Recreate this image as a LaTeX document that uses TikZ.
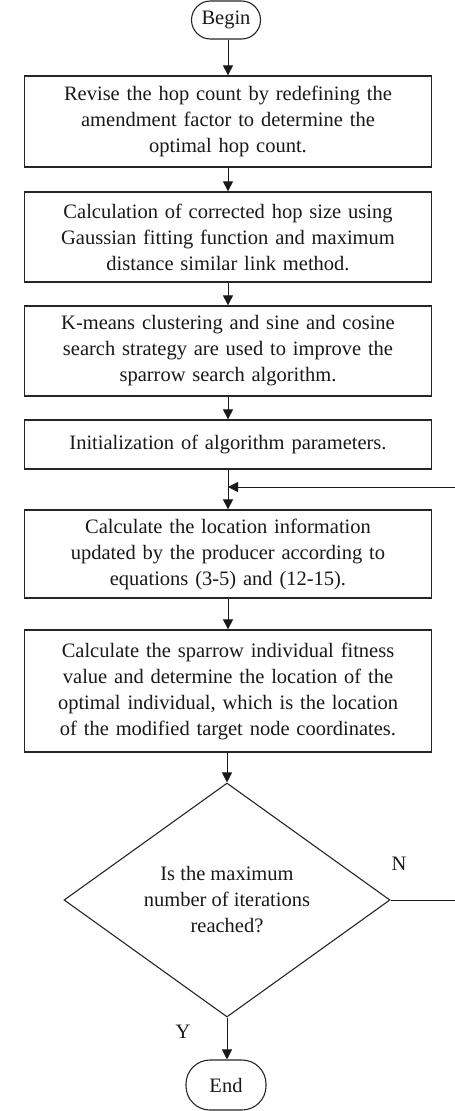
\documentclass[tikz,border=0pt]{standalone}
\usepackage{fontspec}
\setmainfont{Liberation Serif}
\usetikzlibrary{arrows.meta,shapes.geometric}
\begin{document}
\begin{tikzpicture}[x=1pt,y=-1pt,
  every node/.style={font=\fontsize{20.5}{26}\selectfont, text=black!90},
  stepbox/.style={draw=black!85, line width=1.3pt, rectangle, minimum width=407, inner sep=0pt, align=center, text width=400},
  term/.style={draw=black!85, line width=1.1pt, rounded corners=19pt, inner sep=0pt, align=center},
  decide/.style={draw=black!85, line width=1.1pt, diamond, shape aspect=1.39, minimum width=326, minimum height=234, inner sep=0pt, align=center},
  arr/.style={draw=black!90, line width=1pt, -{Triangle[length=10pt,width=10pt]}},
  ln/.style={draw=black!90, line width=1pt}
]
\useasboundingbox (0,0) rectangle (455,1111);
\fill[white] (0,0) rectangle (455,1111);

\node[term, minimum width=69, minimum height=38] (begin) at (226,20) {Begin};
\node[stepbox, minimum height=91] (b1) at (228,121.5) {Revise the hop count by redefining the\\amendment factor to determine the\\optimal hop count.};
\node[stepbox, minimum height=90] (b2) at (228,237) {Calculation of corrected hop size using\\Gaussian fitting function and maximum\\distance similar link method.};
\node[stepbox, minimum height=90] (b3) at (228,351) {K-means clustering and sine and cosine\\search strategy are used to improve the\\sparrow search algorithm.};
\node[stepbox, minimum height=49] (b4) at (228,444.5) {Initialization of algorithm parameters.};
\node[stepbox, minimum height=88] (b5) at (228,554) {Calculate the location information\\updated by the producer according to\\equations (3-5) and (12-15).};
\node[stepbox, minimum height=122] (b6) at (228,691) {Calculate the sparrow individual fitness\\value and determine the location of the\\optimal individual, which is the location\\of the modified target node coordinates.};
\node[decide] (d) at (227,900) {Is the maximum\\number of iterations\\reached?};
\node[term, minimum width=80, minimum height=50, rounded corners=24pt] (end) at (226,1085) {End};

\node (nlab) at (399,864) {N};
\node (ylab) at (183,1032) {Y};

\coordinate (j) at (228,487);
\coordinate (r) at (460,900);

\draw[arr] (begin.south -| b1.north) -- (b1.north);
\draw[arr] (b1.south) -- (b2.north);
\draw[arr] (b2.south) -- (b3.north);
\draw[arr] (b3.south) -- (b4.north);
\draw[arr] (b4.south) -- (b5.north);
\draw[arr] (b5.south) -- (b6.north);
\draw[arr] (b6.south -| d.north) -- (d.north);
\draw[arr] (d.south) -- (end.north -| d.south);
\draw[arr] (d.east) -- (r) |- (j);
\end{tikzpicture}
\end{document}
